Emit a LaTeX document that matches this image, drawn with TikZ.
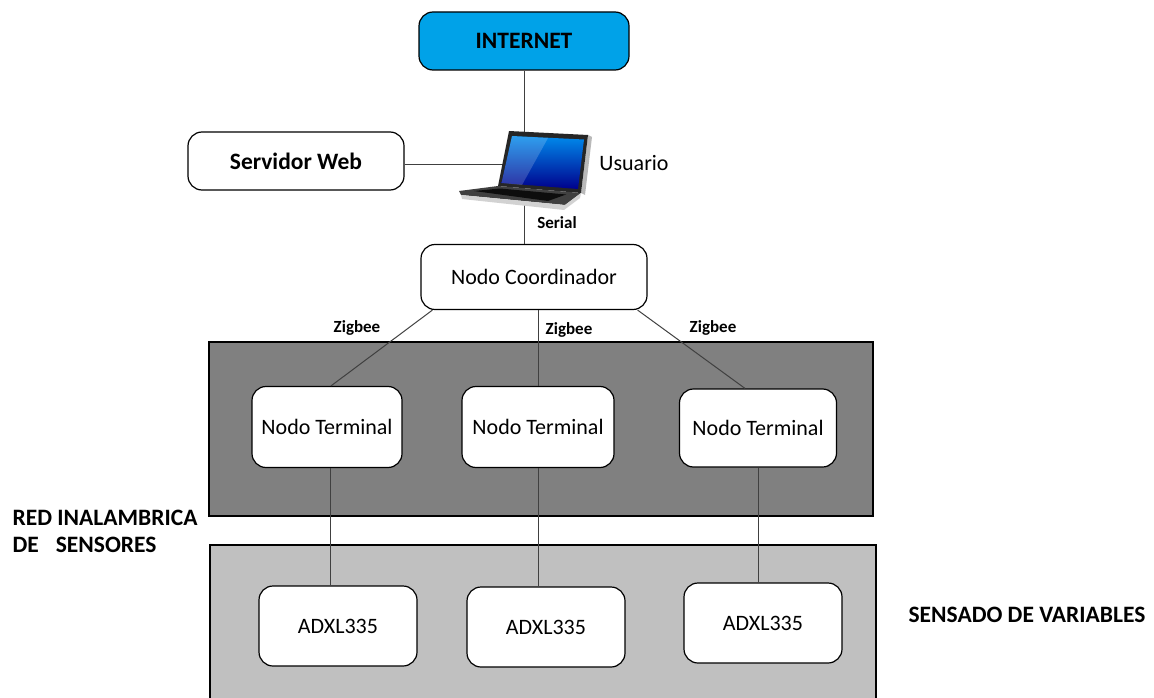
\documentclass[tikz,border=0pt]{standalone}
\usepackage{fontspec}
\setmainfont{Carlito}
\definecolor{cielo}{RGB}{0,162,232}
\definecolor{grisosc}{RGB}{128,128,128}
\definecolor{grisclaro}{RGB}{192,192,192}
\definecolor{linea}{RGB}{64,64,64}
\begin{document}
\begin{tikzpicture}[x=1pt, y=-1pt, line width=1.2pt,
	caja/.style={draw=black, fill=white, rounded corners=14pt, inner sep=0pt, font=\fontsize{22}{26}\selectfont},
	negrita/.style={font=\bfseries\fontsize{23.5}{27}\selectfont, align=left, inner sep=0pt},
	etiq/.style={font=\bfseries\fontsize{17}{20}\selectfont},
	enlace/.style={draw=linea, line width=1pt}]
	\useasboundingbox (0,0) rectangle (1154,698);

	\node (RED) at (541,429)	[draw=black, fill=grisosc, minimum width=664, minimum height=174]	{};
	\node (SEN) at (543,623)	[draw=black, fill=grisclaro, minimum width=666, minimum height=156]	{};

	\node (INT) at (524,41)	[caja, fill=cielo, minimum width=210, minimum height=58, font=\bfseries\fontsize{23.5}{27}\selectfont]	{INTERNET};
	\node (SW) at (296,161)	[caja, minimum width=216, minimum height=58, font=\bfseries\fontsize{23.5}{27}\selectfont]	{Servidor Web};
	\node (PC) at (524,168)	[minimum width=132, minimum height=86]	{};
	\node (USR) at (634,163)	[font=\fontsize{22}{26}\selectfont]	{Usuario};
	\node (NC) at (534,277)	[caja, minimum width=226, minimum height=65]	{Nodo Coordinador};

	\node (NT1) at (327,427)	[caja, minimum width=150, minimum height=81]	{Nodo Terminal};
	\node (NT2) at (538,427)	[caja, minimum width=152, minimum height=81]	{Nodo Terminal};
	\node (NT3) at (758,428)	[caja, minimum width=157, minimum height=78]	{Nodo Terminal};

	\node (AD1) at (338,626)	[caja, minimum width=158, minimum height=80]	{ADXL335};
	\node (AD2) at (546,627)	[caja, minimum width=158, minimum height=80]	{ADXL335};
	\node (AD3) at (763,623)	[caja, minimum width=158, minimum height=80]	{ADXL335};

	\node (SER) at (557,223)	[etiq]	{Serial};
	\node (Z1) at (357,328)	[etiq]	{Zigbee};
	\node (Z2) at (569,330)	[etiq]	{Zigbee};
	\node (Z3) at (713,328)	[etiq]	{Zigbee};

	\node (TR) at (12,531)	[negrita, anchor=west]	{RED INALAMBRICA\\DE\hspace{17pt}SENSORES};
	\node (TS) at (908,615)	[negrita, anchor=west]	{SENSADO DE VARIABLES};

	\draw[enlace] (INT) -- (PC.center);
	\draw[enlace] ([yshift=-4pt]SW.east) -- ([yshift=-4pt]SW.east -| PC.center);
	\draw[enlace] (PC.center) -- (PC.center |- NC.north);
	\draw[enlace] ([xshift=12pt]NC.south west) -- ([xshift=4pt]NT1.north);
	\draw[enlace] (NC.south -| NT2.north) -- (NT2.north);
	\draw[enlace] ([xshift=-10pt]NC.south east) -- ([xshift=-13pt]NT3.north);
	\draw[enlace] ([xshift=3pt]NT1.south) -- ([xshift=3pt]NT1.south |- AD1.north);
	\draw[enlace] (NT2.south) -- (NT2.south |- AD2.north);
	\draw[enlace] (NT3.south) -- (NT3.south |- AD3.north);

	\begin{scope}[line width=0.4pt]
		\fill[gray!55] (588,135) -- (592,137) -- (585,195) -- (581,193) -- cycle;
		\fill[black!85] (509,131) -- (588,135) -- (581,193) -- (498,186) -- cycle;
		\shade[bottom color=blue!55!black, top color=cielo!85!blue] (512,136) -- (584,139.5) -- (578,189) -- (501.5,183) -- cycle;
		\fill[white, opacity=0.18] (512,136) -- (548,138) -- (522,185) -- (501.5,183) -- cycle;
		\fill[black!75] (459,191) -- (498,186) -- (581,193) -- (565,205) -- (461,195) -- cycle;
		\fill[black!95] (474,191) -- (500,188.5) -- (566,194.5) -- (548,201) -- cycle;
		\fill[gray!35] (461,195) -- (565,205) -- (581,193) -- (580,198) -- (564,210) -- (462,199) -- cycle;
	\end{scope}
\end{tikzpicture}
\end{document}
